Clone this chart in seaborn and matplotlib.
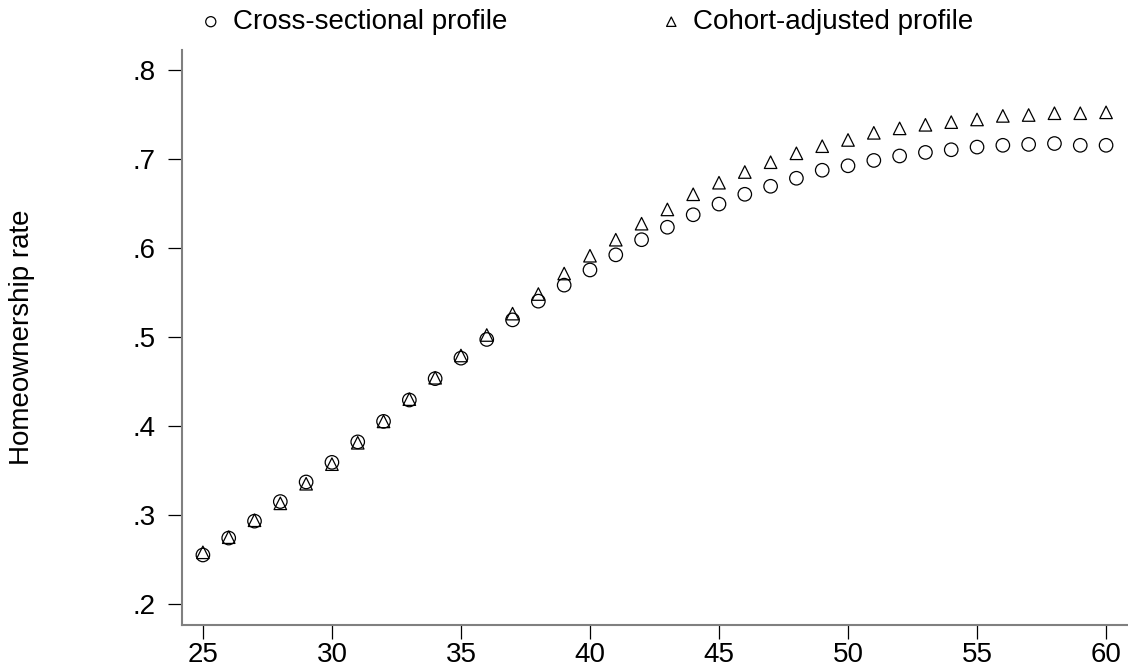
import numpy as np
import pandas as pd
import matplotlib
matplotlib.use("Agg")
import matplotlib.pyplot as plt
import seaborn as sns

ages = list(range(25, 61))
cross_sectional = [0.255, 0.274, 0.293, 0.315, 0.337, 0.359, 0.382, 0.405, 0.429, 0.453,
                   0.476, 0.497, 0.519, 0.540, 0.558, 0.575, 0.592, 0.609, 0.623, 0.637,
                   0.649, 0.660, 0.669, 0.678, 0.687, 0.692, 0.698, 0.703, 0.707, 0.710,
                   0.713, 0.715, 0.716, 0.717, 0.715, 0.715]
cohort_adjusted = [0.258, 0.275, 0.294, 0.313, 0.335, 0.357, 0.381, 0.405, 0.430, 0.454,
                   0.479, 0.502, 0.526, 0.548, 0.571, 0.591, 0.609, 0.627, 0.643, 0.660,
                   0.673, 0.685, 0.696, 0.706, 0.714, 0.721, 0.729, 0.734, 0.738, 0.741,
                   0.744, 0.748, 0.749, 0.751, 0.751, 0.752]
series_labels = ["Cross-sectional profile", "Cohort-adjusted profile"]
x_ticks = [25, 30, 35, 40, 45, 50, 55, 60]
y_ticks = [0.2, 0.3, 0.4, 0.5, 0.6, 0.7, 0.8]
y_tick_labels = [".2", ".3", ".4", ".5", ".6", ".7", ".8"]

sns.set_style("ticks")
plt.rcParams["font.family"] = ["Liberation Sans", "DejaVu Sans"]
plt.rcParams["text.color"] = "black"
plt.rcParams["xtick.color"] = "black"
plt.rcParams["ytick.color"] = "black"
plt.rcParams["axes.labelcolor"] = "black"

df = pd.DataFrame({
    "age": ages * 2,
    "rate": cross_sectional + cohort_adjusted,
    "profile": [series_labels[0]] * len(ages) + [series_labels[1]] * len(ages),
})

fig = plt.figure(figsize=(11.28, 6.66), dpi=100)
ax = fig.add_axes([182 / 1128, 1 - 625 / 666, 1 - 182 / 1128, (625 - 50) / 666])

sizes = {"o": 9.7 ** 2, "^": 9.0 ** 2}
for label, marker in zip(series_labels, ["o", "^"]):
    sub = df[df["profile"] == label]
    sns.scatterplot(data=sub, x="age", y="rate", marker=marker, s=sizes[marker],
                    facecolors="none", edgecolor="black", linewidth=0.9,
                    label=label, ax=ax, legend=False, zorder=3)

ax.set_xlim(24.19, 60.85)
ax.set_ylim(0.1764, 0.822)
ax.set_xticks(x_ticks)
ax.set_xticklabels([str(t) for t in x_ticks])
ax.set_yticks(y_ticks)
ax.set_yticklabels(y_tick_labels)
ax.tick_params(axis="both", direction="out", length=10, width=0.9, color="black",
               labelcolor="black", labelsize=20)
ax.tick_params(axis="y", pad=9)
ax.tick_params(axis="x", pad=2)

for side in ["top", "right"]:
    ax.spines[side].set_visible(False)
for side in ["left", "bottom"]:
    ax.spines[side].set_color("#808080")
    ax.spines[side].set_linewidth(1.5)

ax.set_xlabel("")
ax.set_ylabel("")
fig.text(22 / 1128, 1 - 337 / 666, "Homeownership rate", rotation=90,
         ha="center", va="center", fontsize=20, color="black")

handles, labels = ax.get_legend_handles_labels()
fig.legend(handles, labels, loc="center left", bbox_to_anchor=(183 / 1128, 1 - 22 / 666),
           ncol=2, frameon=False, fontsize=20, markerscale=0.75,
           handlelength=1.0, handletextpad=0.3, columnspacing=5.4, borderpad=0)

fig.savefig("out.png", dpi=100)
